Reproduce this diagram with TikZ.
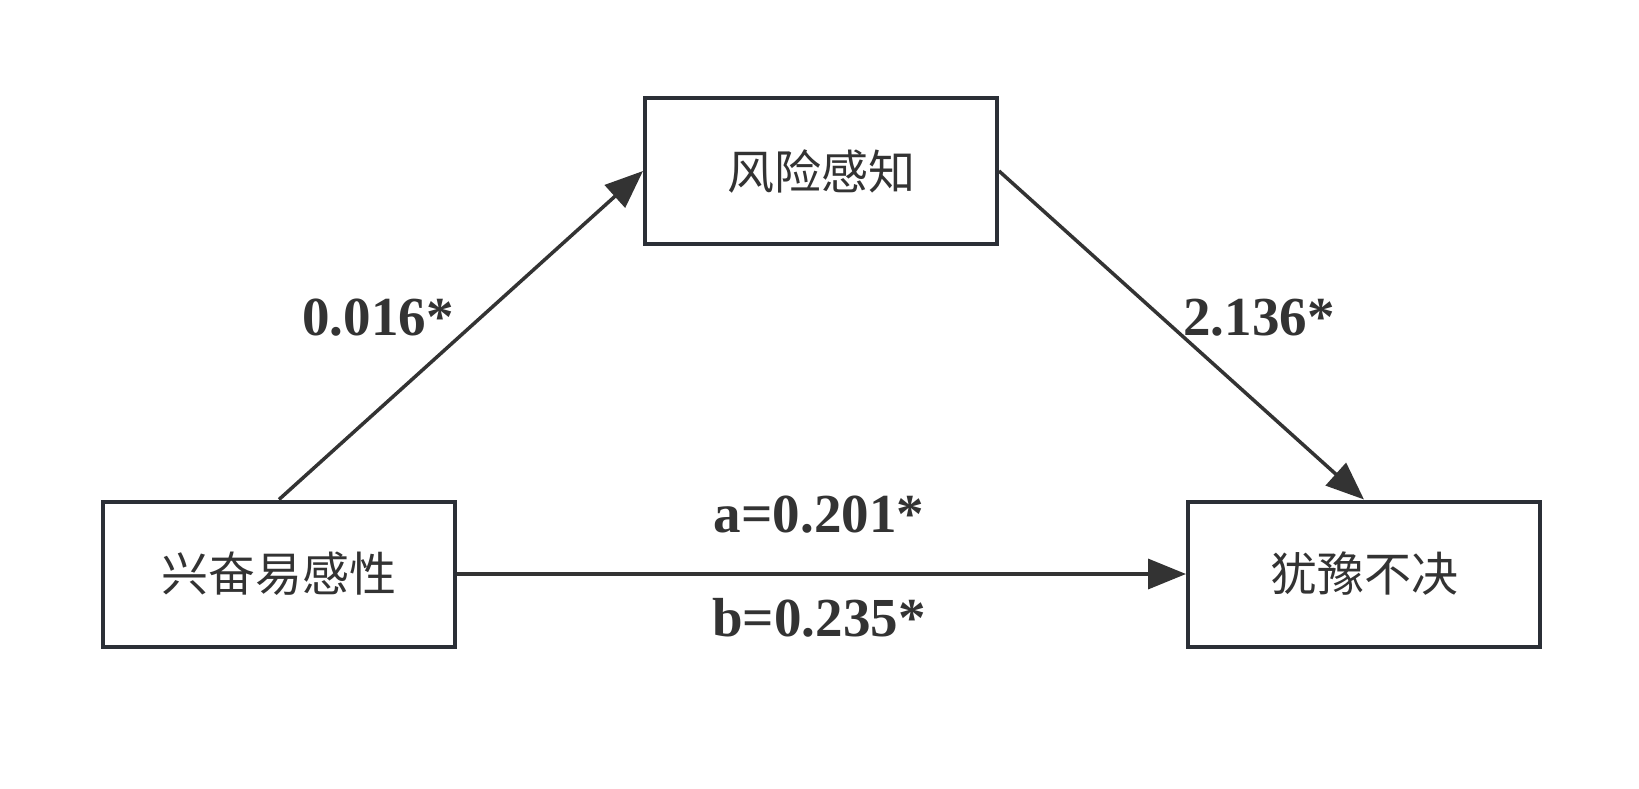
\documentclass[tikz,border=0pt]{standalone}
\usepackage{fontspec}
\setmainfont{Liberation Serif}
\newfontfamily\cjk{Noto Sans CJK SC}
\usetikzlibrary{arrows.meta}
\definecolor{ink}{HTML}{333333}
\definecolor{boxline}{HTML}{2B2F36}
\begin{document}
\begin{tikzpicture}[x=1pt,y=-1pt,
  varbox/.style={draw=boxline,line width=4pt,minimum width=352pt,minimum height=145pt,inner sep=0pt,
    font=\cjk\fontsize{47}{52}\selectfont,text=ink},
  conn/.style={draw=ink,line width=3.5pt,-{Triangle[length=38pt,width=30pt]}},
  coef/.style={font=\bfseries\fontsize{55}{60}\selectfont,text=ink,inner sep=0pt}]
\useasboundingbox[fill=white] (0,0) rectangle (1639,789);
\node[varbox] (top) at (821,171) {风险感知};
\node[varbox] (left) at (279,574) {兴奋易感性};
\node[varbox] (right) at (1364,574) {犹豫不决};
\draw[conn] (left.north) -- (top.west);
\draw[conn] (top.east) -- (right.north);
\draw[conn] (left.east) -- (right.west);
\node[coef] (l1) at (378,318) {0.016*};
\node[coef] (l2) at (1259,318) {2.136*};
\node[coef] (l3) at (819,515) {a=0.201*};
\node[coef] (l4) at (819,618) {b=0.235*};
\end{tikzpicture}
\end{document}
